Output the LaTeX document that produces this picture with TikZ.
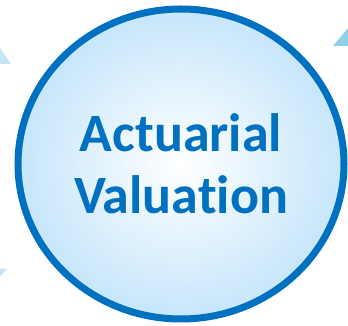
\documentclass[tikz,border=0pt]{standalone}
\usepackage{fontspec}
\setmainfont[Ligatures={NoCommon,NoContextual}]{Carlito}
\usetikzlibrary{shapes.geometric}
\definecolor{valblue}{HTML}{0070C0}
\definecolor{valfill}{HTML}{C6E6FB}
\definecolor{paletri}{HTML}{C5E6F4}
\definecolor{midtri}{HTML}{8DD0E8}
\tikzset{
  valuationcircle/.style={draw=valblue, line width=7pt, ellipse, inner color=white, outer color=valfill,
    minimum width=326pt, minimum height=310pt, align=center, text=valblue,
    font=\fontsize{54}{62}\selectfont\bfseries},
  paletip/.style={fill=paletri},
  midtip/.style={fill=midtri}
}

\begin{document}
\begin{tikzpicture}[x=1pt, y=1pt]
    \useasboundingbox (0,0) rectangle (348,326);
    \clip (0,0) rectangle (348,326);

    % arrow tips of the surrounding cycle
    \fill[paletip] (-6,287) -- (11,262) -- (-6,262) -- cycle;
    \fill[midtip] (333,280) -- (360,280) -- (360,312) -- cycle;
    \fill[paletip] (-6,57) -- (7,57) -- (-6,43) -- cycle;

    \node[valuationcircle] (valuation) at (181,162) {Actuarial\\Valuation};
\end{tikzpicture}
\end{document}
